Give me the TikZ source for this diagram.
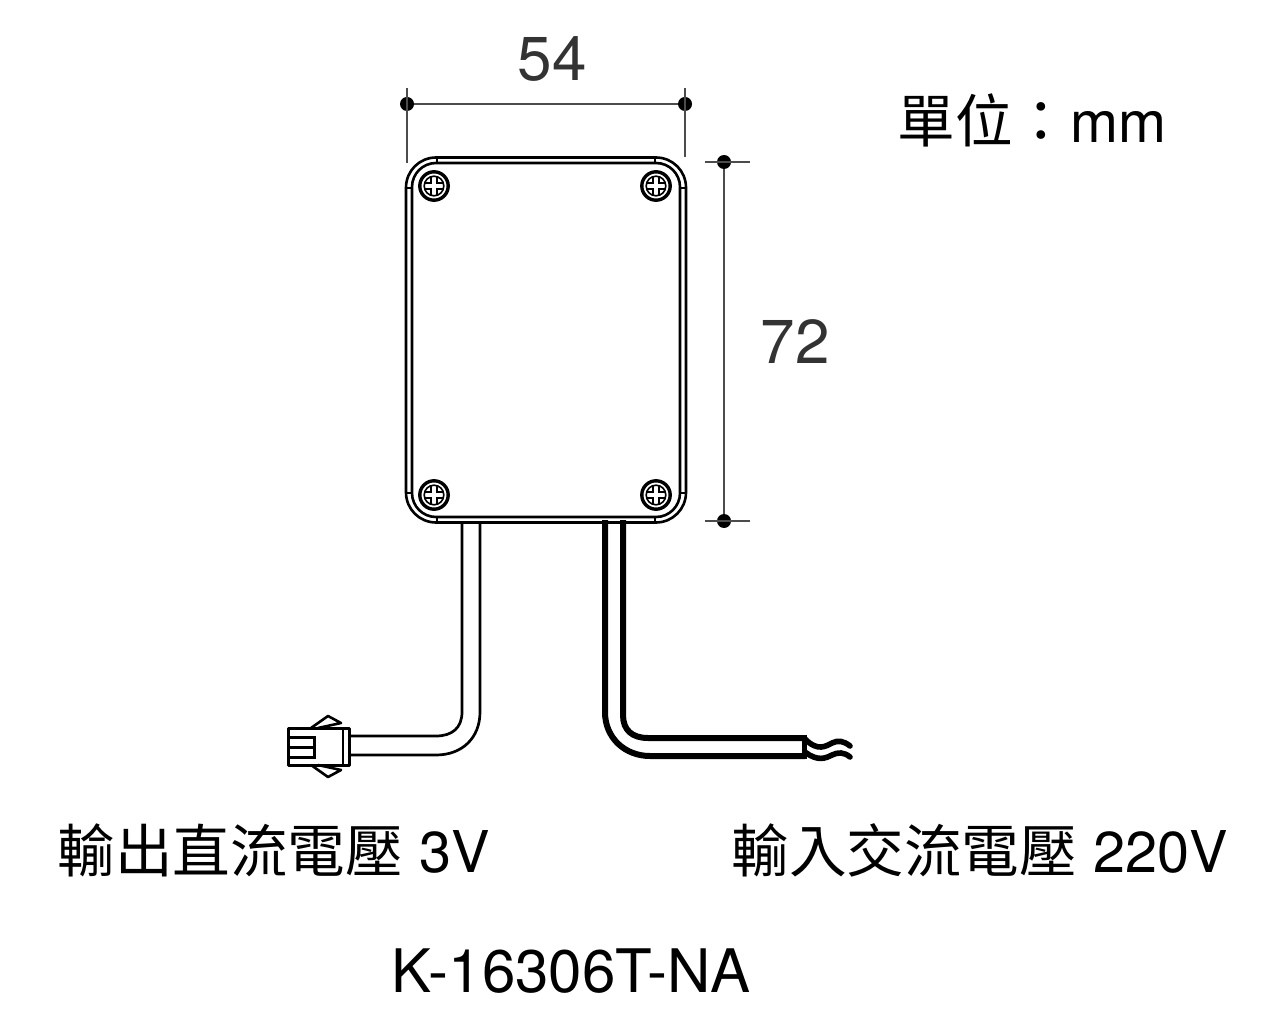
\documentclass[tikz,border=0pt]{standalone}
\usepackage{fontspec}
\setmainfont{TeX Gyre Heros}
\newfontfamily\cjk{Noto Sans CJK TC}
\begin{document}
\begin{tikzpicture}[x=0.5pt,y=-0.5pt,
  body/.style={line width=1.3pt,black},
  thinw/.style={line width=1.35pt,black},
  hotw/.style={line width=3pt,black},
  dimline/.style={line width=0.55pt,black!70},
  dimdot/.style={circle,fill=black,inner sep=0pt,minimum size=7pt},
  lbl/.style={inner sep=0pt,anchor=west,font=\fontsize{28.8}{32}\selectfont},
  big/.style={inner sep=0pt,text=black!80,font=\fontsize{31}{34}\selectfont},
  screwo/.style={line width=1.7pt},
  screwi/.style={line width=0.8pt}]
\useasboundingbox (0,0) rectangle (1284,1021);
% case
\draw[body,rounded corners=15pt] (406,157.5) rectangle (686,522.5);
\draw[body,rounded corners=12pt] (412,163) rectangle (680,517);
\draw[line width=0.9pt] (437,158)--(437,163) (655,158)--(655,163) (437,517)--(437,522) (655,517)--(655,522)
  (406,188)--(412,188) (680,188)--(686,188) (406,493)--(412,493) (680,493)--(686,493);
% screws
\foreach \n/\cx/\cy in {a/434/186,b/656/186,c/434/495,d/656/495}{
  \begin{scope}[shift={(\cx,\cy)}]
    \draw[screwo] (0,0) circle (7.1pt);
    \draw[screwi] (0,0) circle (4.9pt);
    \draw[line width=0.9pt] (-9.5,-3)--(-3,-3)--(-3,-9.5) (3,-9.5)--(3,-3)--(9.5,-3) (9.5,3)--(3,3)--(3,9.5) (-3,9.5)--(-3,3)--(-9.5,3);
  \end{scope}}
% left cable
\draw[thinw] (462,522)--(462,712) .. controls (462,728) and (452,736) .. (436,736)--(349,736);
\draw[thinw] (480,522)--(480,712) .. controls (480,738) and (462,755) .. (436,755)--(349,755);
% connector
\draw[line width=1.5pt,line join=round] (288,728) rectangle (349,765);
\draw[line width=1.4pt] (343,728)--(343,765);
\draw[line width=1.5pt] (289,737)--(314,737)--(314,757)--(289,757) (289,747)--(314,747);
\draw[line width=1.3pt,line join=round] (311,728)--(328,716)--(341,723)--(318,728);
\draw[line width=1.3pt,line join=round] (311,765)--(328,777)--(341,770)--(318,765);
% right cable
\draw[hotw] (605,520)--(605,712) .. controls (605,738) and (625,756) .. (650,756)--(805,756);
\draw[hotw] (623,520)--(623,715) .. controls (623,730) and (632,738) .. (648,738)--(805,738);
\draw[line width=2.5pt] (804,735)--(804,759);
\draw[line width=2.8pt,line cap=round] (805,739) .. controls (818,752) and (826,746) .. (832,743) .. controls (838,740) and (844,741) .. (850,746);
\draw[line width=2.8pt,line cap=round] (805,752) .. controls (818,762) and (826,758) .. (832,755) .. controls (838,752) and (844,752) .. (850,757);
% dimensions
\node[dimdot] (t1) at (407,104) {};
\node[dimdot] (t2) at (685,104) {};
\node[dimdot] (r1) at (724,162) {};
\node[dimdot] (r2) at (724,521) {};
\coordinate (t1e) at (407,163);
\coordinate (t2e) at (685,157);
\coordinate (t1u) at (407,88);
\coordinate (t2u) at (685,88);
\coordinate (r1a) at (705,162);
\coordinate (r1b) at (750,162);
\coordinate (r2a) at (705,521);
\coordinate (r2b) at (750,521);
\draw[dimline] (t1)--(t2);
\draw[dimline] (r1)--(r2);
\draw[dimline] (t1u)--(t1e);
\draw[dimline] (t2u)--(t2e);
\draw[dimline] (r1a)--(r1b);
\draw[dimline] (r2a)--(r2b);
% labels
\node[big] (w) at (552,59) {54};
\node[big] (h) at (795,342) {72};
\node[lbl] (unit) at (897,120) {{\cjk 單位：}mm};
\node[lbl] (dc) at (57,850) {{\cjk 輸出直流電壓} 3V};
\node[lbl] (ac) at (731,850) {{\cjk 輸入交流電壓} 220V};
\node[lbl,font=\fontsize{30}{32}\selectfont] (model) at (391,971) {K-16306T-NA};
\end{tikzpicture}
\end{document}
